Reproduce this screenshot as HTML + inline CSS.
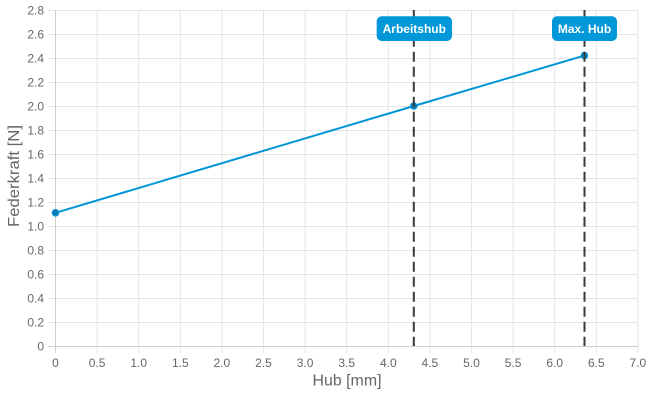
<!DOCTYPE html>
<html>
<head>
<meta charset="utf-8">
<style>
  html,body{margin:0;padding:0;background:#fff;}
  svg{display:block;}
  .tk{font-family:"Liberation Sans",Arial,sans-serif;font-size:12px;fill:#666;}
  .tt{font-family:"Liberation Sans",Arial,sans-serif;font-size:16px;fill:#666;}
  .lb{font-family:"Liberation Sans",Arial,sans-serif;font-size:12px;font-weight:bold;fill:#fff;}
</style>
</head>
<body>
<svg width="650" height="400" viewBox="0 0 650 400" xmlns="http://www.w3.org/2000/svg">
  <defs>
    <clipPath id="ca"><rect x="55" y="10" width="584" height="337"/></clipPath>
  </defs>
  <rect width="650" height="400" fill="#fff"/>
  <g stroke="#e5e5e5" stroke-width="1">
    <line x1="48" y1="10.5" x2="638" y2="10.5"/>
    <line x1="48" y1="34.5" x2="638" y2="34.5"/>
    <line x1="48" y1="58.5" x2="638" y2="58.5"/>
    <line x1="48" y1="82.5" x2="638" y2="82.5"/>
    <line x1="48" y1="106.5" x2="638" y2="106.5"/>
    <line x1="48" y1="130.5" x2="638" y2="130.5"/>
    <line x1="48" y1="154.5" x2="638" y2="154.5"/>
    <line x1="48" y1="178.5" x2="638" y2="178.5"/>
    <line x1="48" y1="202.5" x2="638" y2="202.5"/>
    <line x1="48" y1="226.5" x2="638" y2="226.5"/>
    <line x1="48" y1="250.5" x2="638" y2="250.5"/>
    <line x1="48" y1="274.5" x2="638" y2="274.5"/>
    <line x1="48" y1="298.5" x2="638" y2="298.5"/>
    <line x1="48" y1="322.5" x2="638" y2="322.5"/>
  </g>
  <g stroke="#e5e5e5" stroke-width="1">
    <line x1="97.1" y1="10" x2="97.1" y2="353"/>
    <line x1="138.7" y1="10" x2="138.7" y2="353"/>
    <line x1="180.3" y1="10" x2="180.3" y2="353"/>
    <line x1="221.9" y1="10" x2="221.9" y2="353"/>
    <line x1="263.5" y1="10" x2="263.5" y2="353"/>
    <line x1="305.1" y1="10" x2="305.1" y2="353"/>
    <line x1="346.7" y1="10" x2="346.7" y2="353"/>
    <line x1="388.3" y1="10" x2="388.3" y2="353"/>
    <line x1="429.9" y1="10" x2="429.9" y2="353"/>
    <line x1="471.5" y1="10" x2="471.5" y2="353"/>
    <line x1="513.1" y1="10" x2="513.1" y2="353"/>
    <line x1="554.7" y1="10" x2="554.7" y2="353"/>
    <line x1="596.3" y1="10" x2="596.3" y2="353"/>
    <line x1="637.9" y1="10" x2="637.9" y2="353"/>
  </g>
  <line x1="55.5" y1="10" x2="55.5" y2="353" stroke="#cfcfcf" stroke-width="1"/>
  <line x1="48" y1="346.5" x2="638" y2="346.5" stroke="#cfcfcf" stroke-width="1"/>

  <g class="tk" text-anchor="end">
    <text x="44" y="14.3">2.8</text>
    <text x="44" y="38.3">2.6</text>
    <text x="44" y="62.3">2.4</text>
    <text x="44" y="86.3">2.2</text>
    <text x="44" y="110.3">2.0</text>
    <text x="44" y="134.3">1.8</text>
    <text x="44" y="158.3">1.6</text>
    <text x="44" y="182.3">1.4</text>
    <text x="44" y="206.3">1.2</text>
    <text x="44" y="230.3">1.0</text>
    <text x="44" y="254.3">0.8</text>
    <text x="44" y="278.3">0.6</text>
    <text x="44" y="302.3">0.4</text>
    <text x="44" y="326.3">0.2</text>
    <text x="44" y="350.3">0</text>
  </g>
  <g class="tk" text-anchor="middle">
    <text x="55.5" y="367">0</text>
    <text x="97.1" y="367">0.5</text>
    <text x="138.7" y="367">1.0</text>
    <text x="180.3" y="367">1.5</text>
    <text x="221.9" y="367">2.0</text>
    <text x="263.5" y="367">2.5</text>
    <text x="305.1" y="367">3.0</text>
    <text x="346.7" y="367">3.5</text>
    <text x="388.3" y="367">4.0</text>
    <text x="429.9" y="367">4.5</text>
    <text x="471.5" y="367">5.0</text>
    <text x="513.1" y="367">5.5</text>
    <text x="554.7" y="367">6.0</text>
    <text x="596.3" y="367">6.5</text>
    <text x="637.9" y="367">7.0</text>
  </g>

  <text class="tt" x="347" y="385.5" text-anchor="middle" textLength="69" lengthAdjust="spacingAndGlyphs">Hub [mm]</text>
  <text class="tt" transform="translate(19,176) rotate(-90)" text-anchor="middle" textLength="102" lengthAdjust="spacingAndGlyphs">Federkraft [N]</text>

  <polyline points="55.5,212.8 413.8,106 584.4,55.6" fill="none" stroke="#0096d6" stroke-width="2" stroke-linejoin="round"/>
  <g fill="#0a7cb5" stroke="#0096d6" stroke-width="1">
    <circle cx="55.5" cy="212.8" r="3.3"/>
    <circle cx="413.8" cy="106" r="3.3"/>
    <circle cx="584.4" cy="55.6" r="3.3"/>
  </g>

  <g clip-path="url(#ca)" stroke="#3a3a3a" stroke-width="2" stroke-dasharray="10 5">
    <line x1="413.8" y1="6.7" x2="413.8" y2="346"/>
    <line x1="584.5" y1="6.7" x2="584.5" y2="346"/>
  </g>

  <rect x="376.7" y="16.3" width="75.3" height="24.7" rx="5" ry="5" fill="#0098d8"/>
  <text class="lb" x="414.3" y="33" text-anchor="middle">Arbeitshub</text>
  <rect x="552" y="16.3" width="65" height="24.7" rx="5" ry="5" fill="#0098d8"/>
  <text class="lb" x="584.5" y="33" text-anchor="middle">Max. Hub</text>
</svg>
</body>
</html>
